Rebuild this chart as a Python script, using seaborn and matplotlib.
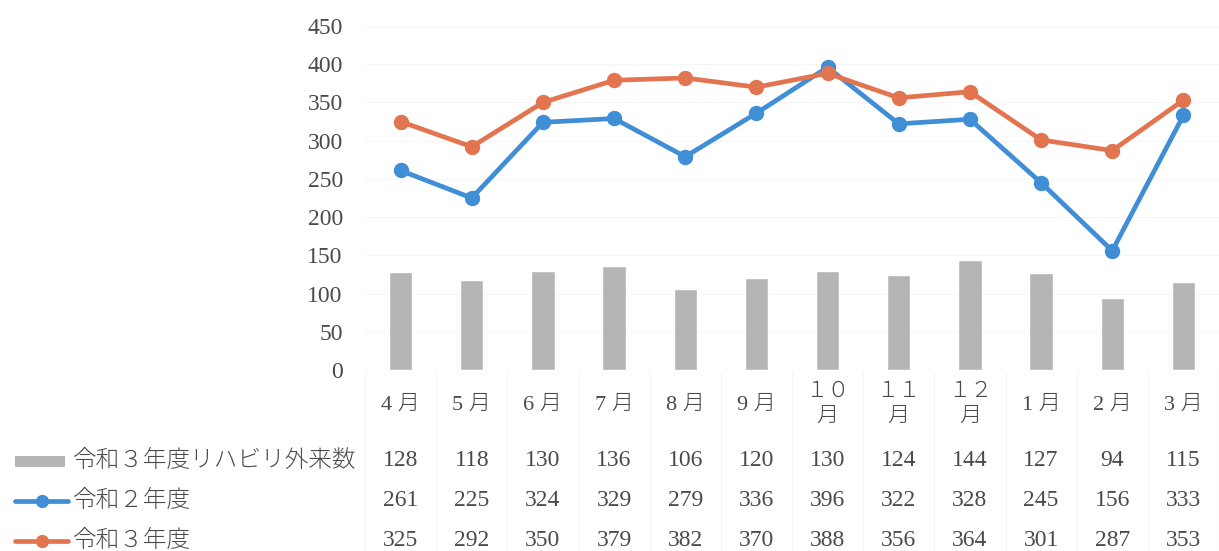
import matplotlib
matplotlib.use("Agg")
import matplotlib.pyplot as plt
from matplotlib.lines import Line2D
from matplotlib.patches import Rectangle
import matplotlib.transforms as mtransforms
import seaborn as sns
import pandas as pd

months = ["4 月", "5 月", "6 月", "7 月", "8 月", "9 月",
          "１０\n月", "１１\n月", "１２\n月", "1 月", "2 月", "3 月"]
outpatients_r3 = [128, 118, 130, 136, 106, 120, 130, 124, 144, 127, 94, 115]
visits_r2 = [261, 225, 324, 329, 279, 336, 396, 322, 328, 245, 156, 333]
visits_r3 = [325, 292, 350, 379, 382, 370, 388, 356, 364, 301, 287, 353]
series_names = ["令和３年度リハビリ外来数", "令和２年度", "令和３年度"]
y_ticks = [0, 50, 100, 150, 200, 250, 300, 350, 400, 450]

GRAY = "#B5B5B5"
BLUE = "#3F8ED6"
ORANGE = "#E2744F"
TEXT = "#4A4A4A"

sns.set_theme(style="white")
plt.rcParams["font.family"] = ["Liberation Serif", "Noto Sans CJK JP", "DejaVu Sans"]

df = pd.DataFrame({
    "month": months,
    series_names[0]: outpatients_r3,
    series_names[1]: visits_r2,
    series_names[2]: visits_r3,
})

fig = plt.figure(figsize=(12.19, 5.51), dpi=100)
ax = fig.add_axes([365 / 1219, 1 - 370 / 551, 854 / 1219, (370 - 26) / 551])

sns.barplot(data=df, x="month", y=series_names[0], color=GRAY, width=0.33,
            saturation=1, ax=ax, zorder=2)
sns.pointplot(data=df, x="month", y=series_names[1], color=BLUE, markers="o",
              linestyles="-", markersize=8.5, linewidth=3.4, ax=ax, zorder=3)
sns.pointplot(data=df, x="month", y=series_names[2], color=ORANGE, markers="o",
              linestyles="-", markersize=8.5, linewidth=3.4, ax=ax, zorder=4)

n = len(months)
ax.set_xlim(-0.5, n - 0.5)
ax.set_ylim(0, 450)
ax.set_yticks(y_ticks)
ax.set_yticklabels([str(v) for v in y_ticks], fontsize=17, color=TEXT)
ax.tick_params(axis="y", length=0, pad=16)
ax.set_xticks(range(n))
ax.set_xticklabels([])
ax.tick_params(axis="x", length=0)
ax.set_xlabel("")
ax.set_ylabel("")
ax.yaxis.grid(True, color="#F6F6F6", linewidth=0.8)
ax.set_axisbelow(True)
for s in ax.spines.values():
    s.set_visible(False)

# data table underneath the plot: x in data units, y in figure pixels
trans = mtransforms.blended_transform_factory(ax.transData, fig.transFigure)
def fy(px):
    return 1 - px / 551

for i, m in enumerate(months):
    ax.text(i, fy(405), m, transform=trans, ha="center", va="center",
            fontsize=16, color=TEXT, linespacing=1.45, fontweight="light",
            clip_on=False)
rows_y = [461, 501, 541]
for yy, vals in zip(rows_y, [outpatients_r3, visits_r2, visits_r3]):
    for i, v in enumerate(vals):
        ax.text(i, fy(yy), str(v), transform=trans, ha="center", va="center",
                fontsize=17, color=TEXT, clip_on=False)

# faint table rules
for k in range(n + 1):
    fig.add_artist(Line2D([(365 + k * 854 / n) / 1219] * 2, [fy(372), fy(551)],
                          color="#F4F4F4", lw=0.8))

# row headers with legend keys
fig.add_artist(Rectangle((15 / 1219, fy(467)), 50 / 1219, 11 / 551,
                         facecolor=GRAY, edgecolor="none"))
fig.text(72 / 1219, fy(461), series_names[0], ha="left", va="center",
         fontsize=17, color=TEXT, fontweight="light")
for yy, col, name in [(501, BLUE, series_names[1]), (541, ORANGE, series_names[2])]:
    fig.add_artist(Line2D([15 / 1219, 68 / 1219], [fy(yy), fy(yy)], color=col,
                          lw=3.4))
    fig.add_artist(Line2D([41.5 / 1219], [fy(yy)], color=col, marker="o",
                          ms=8.5, lw=0))
    fig.text(72 / 1219, fy(yy), name, ha="left", va="center",
             fontsize=17, color=TEXT, fontweight="light")

fig.savefig("out.png", dpi=100, facecolor="white")
